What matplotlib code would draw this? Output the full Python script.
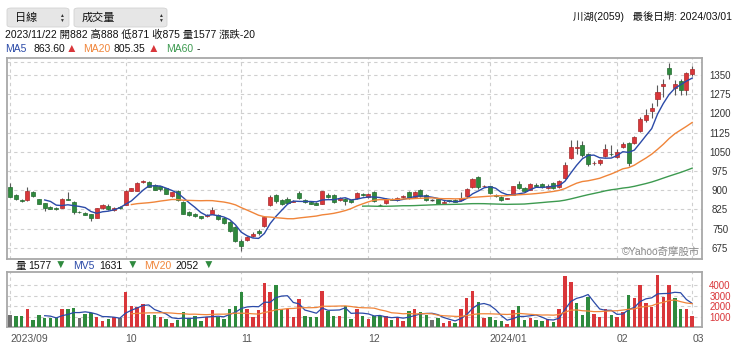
import numpy as np
import pandas as pd
import matplotlib
matplotlib.use("Agg")
import matplotlib.pyplot as plt
from matplotlib.patches import FancyBboxPatch

plt.rcParams['font.family'] = ['Liberation Sans', 'Noto Sans CJK TC', 'DejaVu Sans']

# trading days shown (TWSE holidays removed)
holidays = ["2023-09-29", "2023-10-09", "2023-10-10", "2024-01-01",
            "2024-02-06", "2024-02-07", "2024-02-08", "2024-02-09",
            "2024-02-12", "2024-02-13", "2024-02-14", "2024-02-28"]
month_labels = ["2023/09", "10", "11", "12", "2024/01", "02", "03"]
price_ticks = [675, 750, 825, 900, 975, 1050, 1125, 1200, 1275, 1350]
vol_ticks = [1000, 2000, 3000, 4000]

opens = [913, 881, 862, 860, 892, 864, 849, 835, 832, 832,
         866, 855, 815, 812, 805, 792, 829, 838, 823, 834,
         842, 898, 898, 930, 933, 920, 916, 907, 876, 897,
         855, 814, 806, 797, 797, 808, 803, 792, 777, 757,
         703, 706, 722, 740, 758, 842, 880, 861, 866, 855,
         890, 860, 854, 851, 847, 882, 880, 860, 865, 860,
         868, 884, 872, 893, 843, 848, 866, 860, 873, 894,
         872, 900, 882, 861, 864, 851, 860, 862, 860, 876,
         913, 950, 915, 916, 880, 874, 867, 882, 922, 910,
         902, 920, 925, 908, 926, 913, 948, 1027, 1066, 1075,
         1040, 1004, 1005, 1032, 1042, 1030, 1068, 1084, 1085, 1130,
         1172, 1210, 1254, 1307, 1376, 1298, 1328, 1290, 1352]
highs = [927, 884, 866, 913, 895, 866, 850, 837, 835, 870,
         893, 858, 820, 815, 808, 832, 845, 845, 833, 838,
         900, 910, 930, 940, 936, 922, 918, 909, 893, 900,
         857, 817, 810, 799, 805, 835, 806, 795, 779, 760,
         708, 720, 736, 748, 800, 880, 886, 865, 872, 862,
         895, 864, 857, 854, 898, 888, 884, 874, 868, 863,
         893, 888, 890, 896, 845, 868, 869, 875, 882, 898,
         897, 906, 885, 866, 866, 860, 862, 866, 892, 910,
         948, 955, 920, 918, 883, 876, 870, 918, 935, 914,
         926, 926, 928, 922, 930, 940, 1010, 1097, 1097, 1090,
         1045, 1012, 1022, 1080, 1075, 1060, 1088, 1088, 1112, 1185,
         1215, 1239, 1310, 1335, 1398, 1330, 1335, 1360, 1385]
lows = [872, 862, 852, 857, 873, 845, 818, 826, 823, 830,
        860, 808, 810, 801, 779, 790, 827, 822, 820, 828,
        840, 896, 896, 928, 911, 899, 898, 883, 874, 856,
        805, 800, 794, 788, 795, 806, 783, 768, 736, 697,
        662, 700, 718, 726, 755, 838, 850, 843, 846, 852,
        866, 850, 844, 840, 845, 871, 850, 857, 842, 850,
        866, 876, 870, 853, 839, 846, 860, 858, 870, 866,
        870, 873, 857, 856, 844, 849, 853, 852, 858, 874,
        910, 906, 912, 886, 872, 857, 864, 880, 905, 892,
        899, 912, 908, 905, 905, 910, 945, 1020, 1040, 1030,
        995, 997, 1000, 1028, 1035, 1025, 1065, 995, 1082, 1128,
        1168, 1181, 1230, 1262, 1335, 1273, 1272, 1272, 1345]
closes = [875, 865, 857, 898, 876, 847, 830, 828, 826, 867,
          863, 813, 813, 803, 790, 829, 842, 825, 830, 830,
          898, 907, 927, 936, 913, 901, 903, 886, 891, 862,
          808, 804, 798, 791, 802, 824, 786, 772, 740, 700,
          681, 716, 728, 732, 796, 875, 856, 847, 850, 858,
          869, 854, 847, 843, 895, 875, 853, 870, 858, 853,
          889, 880, 886, 858, 842, 865, 863, 871, 878, 869,
          893, 877, 861, 861, 847, 855, 857, 854, 868, 905,
          943, 912, 917, 889, 876, 860, 869, 915, 908, 895,
          922, 916, 911, 918, 909, 936, 1000, 1070, 1068, 1038,
          1002, 1006, 1018, 1060, 1040, 1050, 1082, 1004, 1106, 1178,
          1193, 1220, 1285, 1314, 1354, 1315, 1290, 1356, 1372]
volumes = [1130, 1090, 1090, 1720, 640, 1130, 870, 870, 870, 1720,
           1700, 1790, 870, 1230, 1330, 980, 620, 810, 980, 870,
           3410, 2010, 1900, 2180, 1130, 1200, 980, 810, 340, 710,
           1430, 810, 1030, 580, 980, 1620, 980, 760, 1720, 2040,
           3410, 1720, 980, 1620, 4230, 3330, 4010, 1720, 1780, 980,
           2660, 1030, 980, 980, 3480, 1577, 1090, 1090, 2010, 810,
           1720, 1030, 730, 1030, 1060, 1030, 640, 960, 570, 1550,
           1780, 1450, 1190, 640, 900, 410, 570, 410, 1780, 2760,
           3480, 2430, 870, 960, 640, 570, 250, 1620, 2010, 640,
           900, 640, 570, 800, 470, 1780, 4880, 4330, 2330, 1190,
           2920, 1290, 960, 1690, 1190, 960, 1450, 3090, 2760, 4000,
           2270, 1940, 4980, 2920, 4070, 2820, 1720, 1720, 1060]

RED, GREEN, GRAY = '#d9363a', '#2f8a3e', '#6e6e6e'
C_MA5, C_MA20, C_MA60 = '#2b4aa8', '#f0853a', '#3d9a50'
GRID = dict(color='#cfcfcf', linestyle=(0, (3, 3)), linewidth=0.8)

dates = pd.bdate_range("2023-09-01", "2024-03-01")
dates = dates[~dates.isin(pd.to_datetime(holidays))]
month_pos = np.flatnonzero(~dates.to_period('M').duplicated())

df = pd.DataFrame({'open': opens, 'high': highs, 'low': lows,
                   'close': closes, 'vol': volumes}, index=dates)
x = np.arange(len(df))


def moving_avg(s, n):
    """Rolling mean, hidden for the first n+1 days like the original chart."""
    m = s.rolling(n).mean()
    m.iloc[:n + 1] = np.nan
    return m


W, H = 740, 363
fig = plt.figure(figsize=(W / 100, H / 100), dpi=100)


def axes_px(left, top, right, bottom):
    return fig.add_axes([left / W, 1 - bottom / H, (right - left) / W, (bottom - top) / H])


def style_axes(ax, yticks, ylabels, labelcolor):
    for sp in ax.spines.values():
        sp.set_color('#a8a8a8')
        sp.set_linewidth(1.3)
    ax.set_xlim(-0.52, 119.7)
    ax.set_xticks(month_pos)
    ax.set_yticks(yticks)
    ax.set_yticklabels(ylabels)
    ax.tick_params(axis='y', left=False, right=True, labelleft=False, labelright=True,
                   length=0, pad=13, labelsize=7, labelcolor=labelcolor)
    for lab in ax.get_yticklabels():
        lab.set_horizontalalignment('center')
    ax.grid(True, **GRID)
    ax.set_axisbelow(True)


# ---- price panel ----
ax = axes_px(7, 58, 702, 259)
style_axes(ax, price_ticks, [str(t) for t in price_ticks], '#333333')
ax.set_ylim(631, 1416)
ax.axhline(1400, zorder=0, **GRID)  # unlabelled top grid line
ax.tick_params(axis='x', bottom=False, labelbottom=False)

up = df['close'] > df['open']
down = df['close'] < df['open']
flat = df['close'] == df['open']
ax.vlines(x, df['low'], df['high'], color='#5a5a5a', linewidth=0.8, zorder=2)
body_lo = np.minimum(df['open'], df['close'])
body_h = (df['close'] - df['open']).abs()
ax.bar(x[up], body_h[up], bottom=body_lo[up], width=0.7, color=RED,
       edgecolor='#a82a2a', linewidth=0.5, zorder=3)
ax.bar(x[down], body_h[down], bottom=body_lo[down], width=0.7, color=GREEN,
       edgecolor='#246a30', linewidth=0.5, zorder=3)
ax.hlines(df['close'][flat], x[flat] - 0.35, x[flat] + 0.35, color='#444444',
          linewidth=1.0, zorder=3)

ax.plot(x, moving_avg(df['close'], 5), color=C_MA5, linewidth=1.0, zorder=4)
ax.plot(x, moving_avg(df['close'], 20), color=C_MA20, linewidth=1.0, zorder=4)
ax.plot(x, moving_avg(df['close'], 60), color=C_MA60, linewidth=1.0, zorder=4)
ax.text(0.997, 0.012, '©Yahoo奇摩股市', transform=ax.transAxes, ha='right', va='bottom',
        fontsize=7.5, color='#8a8a8a')

# ---- volume panel ----
axv = axes_px(7, 272, 702, 327)
style_axes(axv, vol_ticks, [str(t) for t in vol_ticks], RED)
axv.set_ylim(0, 5300)
chg = df['close'].diff()
vcol = np.where(chg > 0, RED, np.where(chg < 0, GREEN, GRAY))
axv.bar(x, df['vol'], width=0.6, color=vcol, zorder=3)
axv.plot(x, moving_avg(df['vol'], 5), color=C_MA5, linewidth=0.9, zorder=4)
axv.plot(x, moving_avg(df['vol'], 20), color=C_MA20, linewidth=0.9, zorder=4)
axv.set_xticklabels(month_labels)
axv.tick_params(axis='x', length=0, pad=5, labelsize=7.5, labelcolor='#555555')
for lab in axv.get_xticklabels():
    lab.set_horizontalalignment('left')


# ---- header texts ----
def ftext(px, py, s, color='#111111', size=7.5, ha='left'):
    fig.text(px / W, 1 - py / H, s, color=color, fontsize=size, ha=ha, va='center')


for bx, bw in [(7, 62), (74, 93)]:
    fig.patches.append(FancyBboxPatch((bx / W, 1 - 27 / H), bw / W, 19 / H,
                                      boxstyle='round,pad=0,rounding_size=0.006',
                                      transform=fig.transFigure, facecolor='#e6e6e6',
                                      edgecolor='#d2d2d2', linewidth=0.6))
ftext(15, 18, '日線', size=8)
ftext(82, 18, '成交量', size=8)
for ax_x in (61, 160):
    ftext(ax_x, 15.5, '▲', size=3.5, color='#333333', ha='center')
    ftext(ax_x, 20.5, '▼', size=3.5, color='#333333', ha='center')

ftext(732, 16, '川湖(2059)   最後日期: 2024/03/01', ha='right')
ftext(5, 35, '2023/11/22 開882 高888 低871 收875 量1577 漲跌-20')

ftext(5, 49, 'MA5', color=C_MA5)
ftext(33, 49, '863.60')
ftext(66, 49, '▲', color=RED, size=8.5)
ftext(83, 49, 'MA20', color=C_MA20)
ftext(114, 49, '805.35')
ftext(148, 49, '▲', color=RED, size=8.5)
ftext(166, 49, 'MA60', color=C_MA60)
ftext(197, 49, '-')

ftext(15, 266, '量')
ftext(28, 266, '1577')
ftext(55, 266, '▼', color=GREEN, size=8.5)
ftext(73, 266, 'MV5', color=C_MA5)
ftext(99, 266, '1631')
ftext(127, 266, '▼', color=GREEN, size=8.5)
ftext(144, 266, 'MV20', color=C_MA20)
ftext(175, 266, '2052')
ftext(203, 266, '▼', color=GREEN, size=8.5)

fig.savefig('out.png', dpi=100)
